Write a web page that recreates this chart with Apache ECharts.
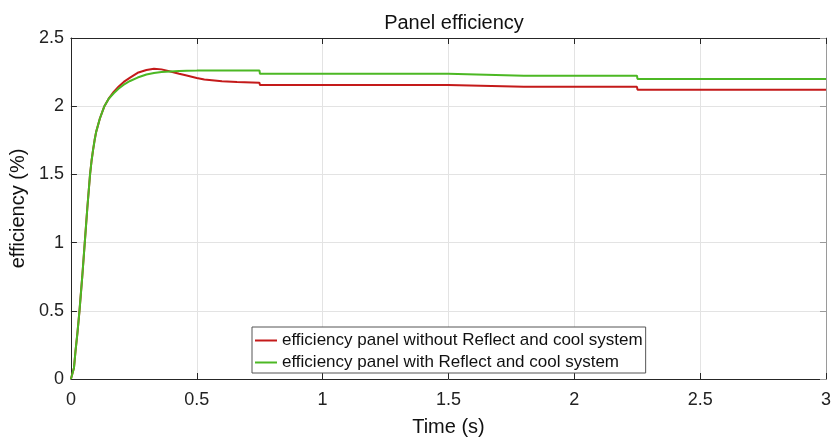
<!DOCTYPE html>
<html>
<head>
<meta charset="utf-8">
<script src="https://cdn.jsdelivr.net/npm/echarts@6/dist/echarts.min.js"></script>
<style>html,body{margin:0;padding:0;background:#fff;}#c{width:834px;height:442px;}</style>
</head>
<body>
<div id="c"></div>
<script>
const chartTitle = 'Panel efficiency';
const xName = 'Time (s)';
const yName = 'efficiency (%)';
const seriesNames = ['efficiency panel without Reflect and cool system', 'efficiency panel with Reflect and cool system'];
const time = [0, 0.005, 0.012, 0.018, 0.026, 0.034, 0.045, 0.055, 0.065, 0.076, 0.082, 0.088, 0.094, 0.1, 0.115, 0.133, 0.15, 0.17, 0.19, 0.21, 0.235, 0.265, 0.3, 0.33, 0.36, 0.395, 0.43, 0.46, 0.5, 0.53, 0.6, 0.66, 0.749, 0.751, 1.0, 1.25, 1.499, 1.501, 1.8, 2.0, 2.249, 2.251, 2.6, 3.0];
const effWithout = [0, 0, 0.08, 0.2, 0.34, 0.5, 0.75, 1.0, 1.25, 1.5, 1.6, 1.68, 1.75, 1.81, 1.91, 2.0, 2.055, 2.105, 2.145, 2.178, 2.21, 2.245, 2.265, 2.275, 2.27, 2.255, 2.238, 2.225, 2.207, 2.195, 2.183, 2.177, 2.172, 2.155, 2.155, 2.155, 2.155, 2.142, 2.142, 2.142, 2.142, 2.121, 2.12, 2.12];
const effWith = [0, 0, 0.08, 0.2, 0.34, 0.5, 0.75, 1.0, 1.25, 1.5, 1.6, 1.68, 1.75, 1.81, 1.91, 2.0, 2.055, 2.095, 2.13, 2.158, 2.185, 2.21, 2.232, 2.243, 2.25, 2.255, 2.258, 2.26, 2.261, 2.262, 2.262, 2.262, 2.262, 2.238, 2.238, 2.238, 2.238, 2.224, 2.223, 2.223, 2.223, 2.2, 2.2, 2.2];

const font = "'Liberation Sans', Arial, sans-serif";
const axisDark = '#262626';
const chart = echarts.init(document.getElementById('c'), null, {renderer: 'canvas'});
const pairs = arr => time.map((t, i) => [t, arr[i]]);
chart.setOption({
  animation: false,
  backgroundColor: '#ffffff',
  title: {
    text: chartTitle, left: 449, top: 8, textAlign: 'center',
    textStyle: {fontFamily: font, fontSize: 20, fontWeight: 'normal', color: '#111'}
  },
  legend: {
    orient: 'vertical', left: 252, top: 327,
    backgroundColor: '#fff', borderColor: '#555', borderWidth: 1,
    padding: [5, 3, 2, 3], itemGap: 5,
    icon: 'rect', itemWidth: 22, itemHeight: 2,
    textStyle: {fontFamily: font, fontSize: 17, color: '#111'},
    data: seriesNames
  },
  grid: {left: 70, right: 5, top: 38, bottom: 60, containLabel: false},
  xAxis: [{
    type: 'value', min: 0, max: 3, interval: 0.5,
    name: xName, nameLocation: 'middle', nameGap: 38,
    nameTextStyle: {fontFamily: font, fontSize: 20, color: '#111'},
    axisLine: {show: true, onZero: false, lineStyle: {color: axisDark, width: 1}},
    axisTick: {show: true, inside: true, length: 6, lineStyle: {color: axisDark}},
    axisLabel: {fontFamily: font, fontSize: 18, color: '#222', margin: 12},
    splitLine: {show: true, lineStyle: {color: '#e3e3e3', width: 1}}
  }, {
    type: 'value', min: 0, max: 3, interval: 0.5, position: 'top',
    axisLine: {show: true, onZero: false, lineStyle: {color: axisDark, width: 1}},
    axisTick: {show: true, inside: true, length: 6, lineStyle: {color: axisDark}},
    axisLabel: {show: false}, splitLine: {show: false}
  }],
  yAxis: [{
    type: 'value', min: 0, max: 2.5, interval: 0.5,
    name: yName, nameLocation: 'middle', nameGap: 30, nameRotate: 90,
    nameTextStyle: {fontFamily: font, fontSize: 20, color: '#111'},
    axisLine: {show: true, onZero: false, lineStyle: {color: axisDark, width: 1}},
    axisTick: {show: true, inside: true, length: 6, lineStyle: {color: axisDark}},
    axisLabel: {fontFamily: font, fontSize: 18, color: '#222', margin: 7},
    splitLine: {show: true, lineStyle: {color: '#e3e3e3', width: 1}}
  }, {
    type: 'value', min: 0, max: 2.5, interval: 0.5, position: 'right',
    axisLine: {show: true, onZero: false, lineStyle: {color: '#9a9a9a', width: 1}},
    axisTick: {show: true, inside: true, length: 6, lineStyle: {color: '#9a9a9a'}},
    axisLabel: {show: false}, splitLine: {show: false}
  }],
  series: [{
    name: seriesNames[0], type: 'line', data: pairs(effWithout),
    showSymbol: false, symbol: 'none', smooth: false,
    itemStyle: {color: '#c41a1a'}, lineStyle: {color: '#c41a1a', width: 2}, z: 3
  }, {
    name: seriesNames[1], type: 'line', data: pairs(effWith),
    showSymbol: false, symbol: 'none', smooth: false,
    itemStyle: {color: '#4cb824'}, lineStyle: {color: '#4cb824', width: 2}, z: 4
  }]
});
</script>
</body>
</html>
